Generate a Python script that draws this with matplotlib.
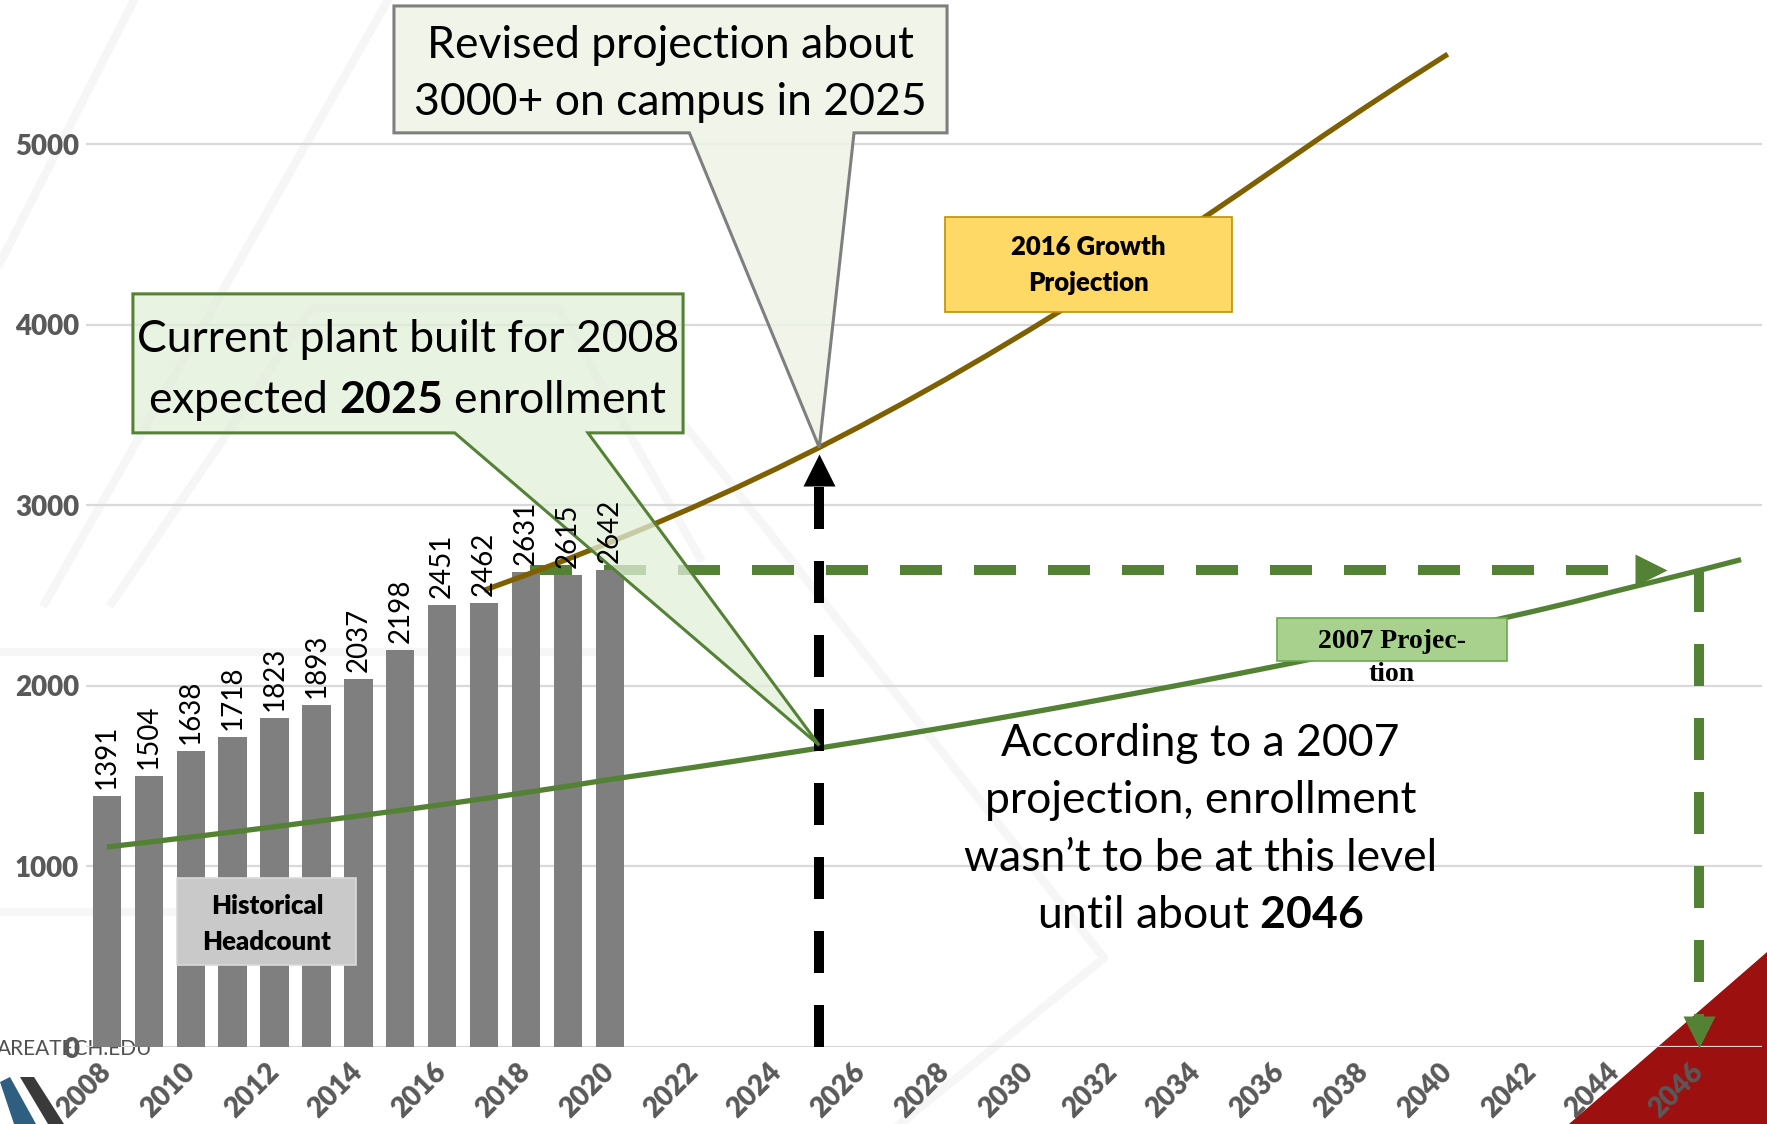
import matplotlib
matplotlib.use("Agg")
import matplotlib.pyplot as plt
from matplotlib.patches import Polygon, Rectangle
from matplotlib.colors import to_rgba

plt.rcParams['font.family'] = ['Lato', 'DejaVu Sans']
plt.rcParams['mathtext.fontset'] = 'custom'
plt.rcParams['mathtext.rm'] = 'Lato'
plt.rcParams['mathtext.bf'] = 'Lato:bold'

# historical headcount
hist_years = list(range(2008, 2021))
headcount = [1391, 1504, 1638, 1718, 1823, 1893, 2037, 2198, 2451, 2462, 2631, 2615, 2642]

# 2016 growth projection
growth_years = list(range(2017, 2041))
growth_vals = [2530, 2615, 2703, 2795, 2891, 2991, 3096, 3206, 3321, 3441, 3566, 3696,
               3831, 3970, 4113, 4260, 4411, 4566, 4724, 4884, 5044, 5200, 5352, 5500]

# 2007 projection
proj07_years = list(range(2008, 2048))
proj07_vals = [1108, 1135, 1163, 1191, 1220, 1250, 1280, 1311, 1343, 1376, 1410, 1445,
               1482, 1515, 1549, 1584, 1620, 1656, 1693, 1731, 1770, 1810, 1851, 1893,
               1936, 1979, 2023, 2068, 2114, 2161, 2209, 2258, 2308, 2359, 2411, 2466,
               2525, 2582, 2640, 2700]

tick_years = list(range(2008, 2047, 2))
y_ticks = [0, 1000, 2000, 3000, 4000, 5000]

GRAY = '#7f7f7f'
GREEN = '#548235'
GOLD = '#7f6000'
LABEL = '#595959'

W, H = 1767, 1124
fig = plt.figure(figsize=(W / 100, H / 100), dpi=100)


def fp(x, y):
    # full-size pixel -> figure fraction
    return (x / W, 1 - y / H)


# slide background: faint watermark, logo stripes, red corner
for seg in [[(0, 263), (134, 0)], [(45, 603), (388, 0)],
            [(112, 603), (312, 308), (558, 308), (700, 558)],
            [(687, 428), (1104, 958), (900, 1124)],
            [(0, 652), (620, 652)], [(0, 912), (300, 912)]]:
    pts = [fp(*p) for p in seg]
    fig.add_artist(plt.Line2D([p[0] for p in pts], [p[1] for p in pts],
                              transform=fig.transFigure, color='#f6f6f6', lw=6, zorder=-2))
fig.add_artist(Polygon([fp(1569, 1124), fp(1767, 952), fp(1767, 1124)], closed=True,
                       transform=fig.transFigure, fc='#9c1010', ec='none', zorder=-1))
fig.add_artist(Polygon([fp(0, 1082), fp(10, 1077), fp(36, 1124), fp(14, 1124)], closed=True,
                       transform=fig.transFigure, fc='#2f5f80', ec='none', zorder=-1))
fig.add_artist(Polygon([fp(20, 1077), fp(34, 1077), fp(64, 1124), fp(48, 1124)], closed=True,
                       transform=fig.transFigure, fc='#3a3a3a', ec='none', zorder=-1))
fig.text(-0.002, 1 - 1049 / H, 'AREATECH.EDU', fontsize=15, color='#505050',
         va='center', ha='left', zorder=-1)

ax = fig.add_axes([86 / W, 77 / H, (1762 - 86) / W, 1047 / H])
ax.patch.set_alpha(0)
ax.set_xlim(2007.5, 2047.5)
ax.set_ylim(0, 5800)

ax.yaxis.grid(True, color='#d9d9d9', lw=1.6)
ax.set_axisbelow(True)
for s in ax.spines.values():
    s.set_visible(False)
ax.set_yticks(y_ticks)
ax.set_yticklabels([str(v) for v in y_ticks], fontsize=20, fontweight='heavy', color=LABEL)
ax.set_xticks(tick_years)
ax.set_xticklabels([str(y) for y in tick_years], rotation=45, ha='right', va='center',
                   rotation_mode='anchor', fontsize=20, fontweight='heavy', color=LABEL)
ax.tick_params(length=0)
ax.tick_params(axis='y', pad=5)
ax.tick_params(axis='x', pad=15)

# dashed level of 2020 headcount (behind the bars)
ax.plot([2018.1, 2044.84], [headcount[-1], headcount[-1]], color=GREEN, lw=7.2,
        dashes=(4.2, 3.2), dash_capstyle='butt', zorder=1.5)
ax.plot([2044.84], [headcount[-1]], marker='>', ms=23, color=GREEN, mec='none', zorder=1.6)

bars = ax.bar(hist_years, headcount, width=0.68, color=GRAY, zorder=2)
ax.bar_label(bars, rotation=90, padding=5, fontsize=20, color='black', zorder=6)

ax.plot(proj07_years, proj07_vals, color=GREEN, lw=3.8, solid_capstyle='butt', zorder=3)
ax.plot(growth_years, growth_vals, color=GOLD, lw=3.8, solid_capstyle='butt', zorder=3)

# vertical arrows
ax.plot([2046, 2046], [headcount[-1], 83], color=GREEN, lw=7.2, dashes=(4.2, 3.2),
        dash_capstyle='butt', zorder=3)
ax.plot([2046], [83], marker='v', ms=23, color=GREEN, mec='none', zorder=3.1)
ax.plot([2025, 2025], [0, 3197], color='black', lw=7.2, dashes=(4.2, 3.2),
        dash_capstyle='butt', zorder=3)
ax.plot([2025], [3197], marker='^', ms=23, color='black', mec='none', zorder=3.1)


def callout(x0, x1, y0, y1, b0, b1, tip, fc, ec, alpha):
    verts = [(x0, y1), (x1, y1), (x1, y0), (b1, y0), tip, (b0, y0), (x0, y0)]
    ax.add_patch(Polygon(verts, closed=True, fc=to_rgba(fc, alpha), ec=ec, lw=2.2,
                         clip_on=False, zorder=5))


tip_growth = (2025, growth_vals[growth_years.index(2025)])
tip_07 = (2025, proj07_vals[proj07_years.index(2025)] + 15)
callout(2014.85, 2028.05, 5064, 5767, 2021.9, 2025.83, tip_growth, '#eef3e6', '#7f7f7f', 0.85)
callout(2008.62, 2021.75, 3402, 4172, 2016.3, 2019.48, tip_07, '#e2efd9', GREEN, 0.75)

ax.text(2021.45, 5390, 'Revised projection about\n3000+ on campus in 2025', fontsize=32,
        ha='center', va='center', linespacing=1.5, zorder=7)
ax.text(2015.18, 3745, 'Current plant built for 2008\nexpected $\\mathbf{2025}$ enrollment',
        fontsize=32, ha='center', va='center', linespacing=1.5, zorder=7)
ax.text(2034.1, 1205, 'According to a 2007\nprojection, enrollment\nwasn\u2019t to be at this level\n'
        'until about $\\mathbf{2046}$', fontsize=32, ha='center', va='center',
        linespacing=1.5, zorder=7)

# series labels
ax.add_patch(Rectangle((2028.0, 4072), 6.85, 526, fc='#ffd966', ec='#bf9000', lw=1.2, zorder=5))
ax.text(2031.43, 4330, '2016 Growth\nProjection', fontsize=18.5, fontweight='heavy',
        ha='center', va='center', linespacing=1.6, zorder=7)
ax.add_patch(Rectangle((2009.67, 454), 4.27, 482, fc='#c9c9c9', ec='#d9d9d9', lw=1.2, zorder=5))
ax.text(2011.82, 680, 'Historical\nHeadcount', fontsize=18.5, fontweight='heavy',
        ha='center', va='center', linespacing=1.6, zorder=7)
ax.add_patch(Rectangle((2035.92, 2138), 5.49, 239, fc='#a9d18e', ec='#6aa84f', lw=1.2, zorder=5))
ax.text(2038.67, 2249, '2007 Projec-', fontsize=20, fontweight='bold',
        family='Liberation Serif', ha='center', va='center', zorder=7)
ax.text(2038.67, 2066, 'tion', fontsize=20, fontweight='bold',
        family='Liberation Serif', ha='center', va='center', zorder=7)

fig.savefig('out.png', dpi=100)
